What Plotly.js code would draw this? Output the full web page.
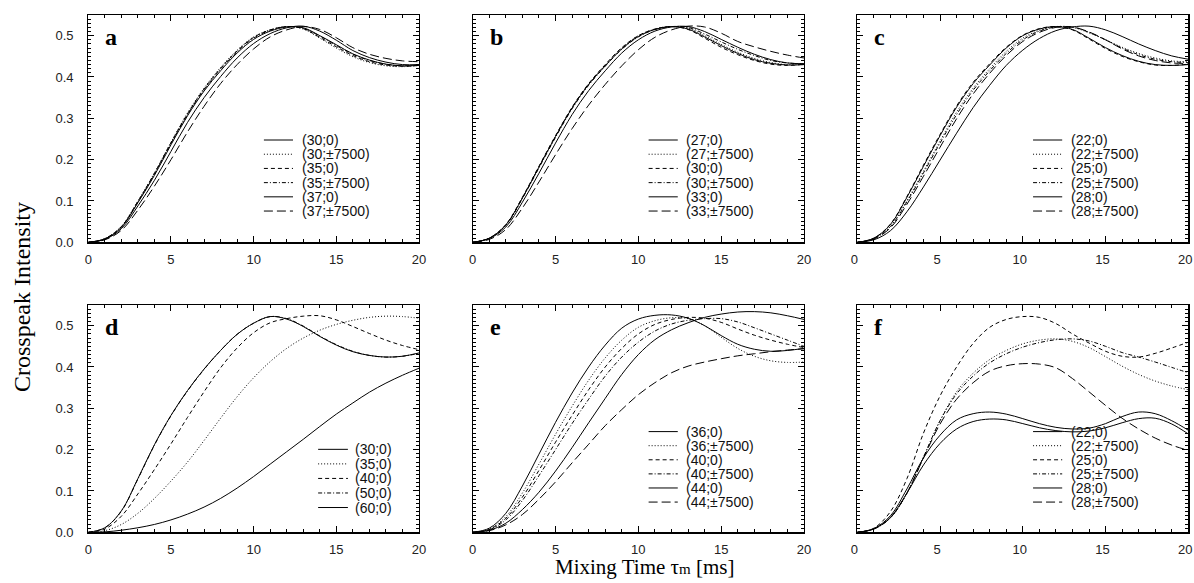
<!DOCTYPE html>
<html><head><meta charset="utf-8">
<script src="https://cdn.plot.ly/plotly-3.0.1.min.js"></script>
<style>html,body{margin:0;padding:0;background:#fff}#chart{width:1194px;height:583px}</style>
</head><body><div id="chart"></div>
<script>
// ---------------- data ----------------
const tms = [0,1,2,3,4,5,6,7,8,9,10,11,12,13,14,15,16,17,18,19,20];
const xTickVals = [0,5,10,15,20];
const xTickText = ['0','5','10','15','20'];
const yTickVals = [0,0.1,0.2,0.3,0.4,0.5];
const yTickText = ['0.0','0.1','0.2','0.3','0.4','0.5'];
const panelLetters = ['a','b','c','d','e','f'];
const xTitle = 'Mixing Time τ<span style="font-size:15px">m</span> [ms]';
const yTitle = 'Crosspeak Intensity';

// panel a
const labelsA = ['(30;0)','(30;±7500)','(35;0)','(35;±7500)','(37;0)','(37;±7500)'];
const a_30_0    = [0,0.008,0.036,0.096,0.162,0.236,0.306,0.366,0.415,0.458,0.491,0.511,0.521,0.519,0.500,0.478,0.456,0.441,0.431,0.427,0.428];
const a_30_7500 = [0,0.009,0.039,0.100,0.168,0.242,0.313,0.373,0.423,0.465,0.497,0.514,0.522,0.516,0.494,0.470,0.449,0.435,0.427,0.425,0.428];
const a_35_0    = [0,0.009,0.038,0.099,0.167,0.241,0.311,0.371,0.421,0.463,0.496,0.514,0.522,0.517,0.496,0.473,0.452,0.437,0.429,0.426,0.428];
const a_35_7500 = [0,0.008,0.037,0.098,0.165,0.239,0.309,0.369,0.419,0.461,0.494,0.513,0.522,0.518,0.499,0.476,0.455,0.440,0.431,0.427,0.429];
const a_37_0    = [0,0.007,0.033,0.088,0.150,0.220,0.290,0.350,0.401,0.446,0.481,0.505,0.519,0.523,0.511,0.489,0.464,0.447,0.436,0.430,0.430];
const a_37_7500 = [0,0.006,0.029,0.078,0.136,0.200,0.267,0.329,0.384,0.430,0.468,0.497,0.514,0.522,0.515,0.495,0.471,0.455,0.445,0.439,0.437];

// panel b
const labelsB = ['(27;0)','(27;±7500)','(30;0)','(30;±7500)','(33;0)','(33;±7500)'];
const b_27_0    = [0,0.010,0.042,0.107,0.182,0.256,0.325,0.382,0.427,0.468,0.498,0.515,0.522,0.516,0.497,0.476,0.457,0.442,0.433,0.429,0.430];
const b_27_7500 = [0,0.010,0.042,0.108,0.183,0.257,0.326,0.383,0.429,0.470,0.500,0.516,0.522,0.518,0.500,0.479,0.460,0.445,0.435,0.430,0.430];
const b_30_0    = [0,0.010,0.043,0.109,0.184,0.258,0.327,0.384,0.430,0.471,0.500,0.516,0.522,0.515,0.494,0.472,0.454,0.440,0.431,0.428,0.431];
const b_30_7500 = [0,0.010,0.041,0.106,0.180,0.254,0.323,0.380,0.426,0.467,0.497,0.515,0.522,0.520,0.504,0.485,0.467,0.452,0.440,0.434,0.432];
const b_33_0    = [0,0.009,0.037,0.097,0.167,0.240,0.309,0.367,0.415,0.458,0.490,0.511,0.521,0.522,0.510,0.491,0.472,0.455,0.442,0.434,0.432];
const b_33_7500 = [0,0.007,0.031,0.083,0.146,0.212,0.275,0.332,0.382,0.427,0.466,0.496,0.514,0.523,0.521,0.506,0.486,0.473,0.462,0.453,0.446];

// panel c
const labelsC = ['(22;0)','(22;±7500)','(25;0)','(25;±7500)','(28;0)','(28;±7500)'];
const c_22_0    = [0,0.010,0.043,0.109,0.184,0.258,0.327,0.384,0.429,0.470,0.500,0.516,0.522,0.515,0.494,0.471,0.452,0.438,0.430,0.428,0.430];
const c_22_7500 = [0,0.009,0.039,0.101,0.172,0.245,0.315,0.373,0.420,0.462,0.494,0.513,0.522,0.520,0.507,0.490,0.472,0.457,0.446,0.439,0.437];
const c_25_0    = [0,0.010,0.044,0.111,0.187,0.261,0.330,0.387,0.432,0.472,0.501,0.517,0.522,0.514,0.492,0.469,0.450,0.437,0.429,0.428,0.431];
const c_25_7500 = [0,0.009,0.038,0.098,0.168,0.240,0.309,0.368,0.415,0.457,0.490,0.511,0.521,0.521,0.508,0.490,0.470,0.454,0.443,0.437,0.435];
const c_28_0    = [0,0.006,0.028,0.074,0.134,0.199,0.264,0.326,0.380,0.428,0.465,0.493,0.512,0.521,0.523,0.514,0.498,0.480,0.464,0.451,0.443];
const c_28_7500 = [0,0.008,0.035,0.092,0.160,0.230,0.299,0.359,0.409,0.452,0.486,0.508,0.520,0.521,0.509,0.490,0.468,0.451,0.440,0.434,0.433];

// panel d
const labelsD = ['(30;0)','(35;0)','(40;0)','(50;0)','(60;0)'];
const d_30_0 = [0,0.011,0.052,0.130,0.212,0.283,0.343,0.395,0.440,0.479,0.506,0.522,0.516,0.498,0.474,0.453,0.437,0.428,0.424,0.426,0.434];
const d_35_0 = [0,0.004,0.019,0.046,0.082,0.124,0.170,0.222,0.276,0.328,0.374,0.413,0.445,0.470,0.489,0.503,0.513,0.520,0.523,0.522,0.518];
const d_40_0 = [0,0.008,0.039,0.093,0.152,0.214,0.278,0.340,0.398,0.446,0.483,0.507,0.517,0.523,0.524,0.514,0.498,0.481,0.465,0.452,0.442];
const d_50_0 = [0,0.011,0.051,0.129,0.211,0.282,0.342,0.394,0.440,0.479,0.506,0.522,0.517,0.499,0.475,0.454,0.438,0.428,0.424,0.426,0.433];
const d_60_0 = [0,0.001,0.005,0.011,0.019,0.030,0.044,0.061,0.082,0.107,0.135,0.165,0.195,0.225,0.256,0.286,0.313,0.339,0.361,0.380,0.397];

// panel e
const labelsE = ['(36;0)','(36;±7500)','(40;0)','(40;±7500)','(44;0)','(44;±7500)'];
const e_36_0    = [0,0.010,0.046,0.112,0.189,0.266,0.337,0.400,0.453,0.494,0.516,0.525,0.526,0.518,0.500,0.476,0.455,0.443,0.438,0.440,0.445];
const e_36_7500 = [0,0.008,0.038,0.095,0.165,0.237,0.305,0.368,0.422,0.465,0.496,0.512,0.519,0.517,0.500,0.472,0.445,0.426,0.415,0.411,0.412];
const e_40_0    = [0,0.007,0.034,0.085,0.150,0.218,0.283,0.345,0.400,0.445,0.480,0.503,0.515,0.520,0.518,0.508,0.492,0.477,0.465,0.455,0.447];
const e_40_7500 = [0,0.006,0.030,0.077,0.137,0.200,0.263,0.322,0.378,0.424,0.460,0.487,0.504,0.513,0.517,0.517,0.509,0.495,0.480,0.465,0.450];
const e_44_0    = [0,0.005,0.022,0.055,0.097,0.148,0.205,0.265,0.324,0.382,0.430,0.466,0.490,0.507,0.520,0.528,0.533,0.534,0.531,0.524,0.515];
const e_44_7500 = [0,0.004,0.018,0.043,0.080,0.122,0.168,0.213,0.258,0.297,0.333,0.362,0.386,0.402,0.412,0.420,0.427,0.432,0.437,0.441,0.444];

// panel f
const labelsF = ['(22;0)','(22;±7500)','(25;0)','(25;±7500)','(28;0)','(28;±7500)'];
const f_22_0    = [0,0.009,0.040,0.105,0.180,0.235,0.272,0.287,0.291,0.286,0.275,0.263,0.254,0.250,0.252,0.263,0.280,0.291,0.287,0.270,0.247];
const f_22_7500 = [0,0.008,0.035,0.095,0.182,0.270,0.340,0.385,0.418,0.440,0.456,0.465,0.468,0.462,0.447,0.425,0.402,0.382,0.366,0.354,0.345];
const f_25_0    = [0,0.010,0.050,0.130,0.240,0.330,0.400,0.457,0.496,0.515,0.522,0.520,0.505,0.480,0.458,0.438,0.426,0.424,0.433,0.446,0.460];
const f_25_7500 = [0,0.008,0.035,0.095,0.182,0.270,0.335,0.378,0.410,0.432,0.448,0.459,0.466,0.468,0.463,0.450,0.435,0.424,0.412,0.399,0.386];
const f_28_0    = [0,0.008,0.036,0.095,0.163,0.215,0.250,0.268,0.274,0.272,0.263,0.253,0.246,0.243,0.245,0.253,0.265,0.275,0.276,0.262,0.238];
const f_28_7500 = [0,0.008,0.035,0.095,0.180,0.262,0.322,0.362,0.390,0.403,0.408,0.407,0.398,0.372,0.340,0.307,0.276,0.250,0.228,0.211,0.198];

// ---------------- styles ----------------
const DOT = '1px,2px', DASH = '4px,3px', DASHDOT = '4px,2px,1px,2px', LONGDASH = '9px,4px';
const dashSix = ['solid', DOT, DASH, DASHDOT, 'solid', LONGDASH];
const dashFive = ['solid', DOT, DASH, DASHDOT, 'solid'];

const panels = [
  {labels: labelsA, series: [a_30_0,a_30_7500,a_35_0,a_35_7500,a_37_0,a_37_7500], dashes: dashSix},
  {labels: labelsB, series: [b_27_0,b_27_7500,b_30_0,b_30_7500,b_33_0,b_33_7500], dashes: dashSix},
  {labels: labelsC, series: [c_22_0,c_22_7500,c_25_0,c_25_7500,c_28_0,c_28_7500], dashes: dashSix},
  {labels: labelsD, series: [d_30_0,d_35_0,d_40_0,d_50_0,d_60_0], dashes: dashFive},
  {labels: labelsE, series: [e_36_0,e_36_7500,e_40_0,e_40_7500,e_44_0,e_44_7500], dashes: dashSix},
  {labels: labelsF, series: [f_22_0,f_22_7500,f_25_0,f_25_7500,f_28_0,f_28_7500], dashes: dashSix}
];

const W = 1194, H = 583;
const colPx = [[88.3,419],[472.7,804],[857.3,1188.3]];
const rowPx = [[15,242.3],[305,532.3]];
// legend geometry in axis-domain fractions
const legGeom = [
  {x0:0.531, x1:0.619, tx:0.639, y0:0.450, dy:0.0625},
  {x0:0.531, x1:0.619, tx:0.639, y0:0.450, dy:0.0625},
  {x0:0.531, x1:0.619, tx:0.639, y0:0.450, dy:0.0625},
  {x0:0.695, x1:0.785, tx:0.800, y0:0.365, dy:0.064},
  {x0:0.531, x1:0.619, tx:0.639, y0:0.443, dy:0.062},
  {x0:0.531, x1:0.619, tx:0.639, y0:0.443, dy:0.062}
];

const tickFont = {family:'Liberation Sans, Arial, sans-serif', size:13, color:'#222'};
const legFont = {family:'Liberation Sans, Arial, sans-serif', size:14, color:'#111'};
const layout = {
  width: W, height: H, margin:{l:0,r:0,t:0,b:0},
  paper_bgcolor:'#fff', plot_bgcolor:'#fff', showlegend:false, hovermode:false,
  annotations: [], shapes: []
};
const traces = [];

panels.forEach((p, i) => {
  const n = i === 0 ? '' : String(i+1);
  const col = i % 3, row = Math.floor(i/3);
  const xd = [colPx[col][0]/W, colPx[col][1]/W];
  const yd = [1 - rowPx[row][1]/H, 1 - rowPx[row][0]/H];
  layout['xaxis'+n] = {
    domain: xd, anchor: 'y'+n, range:[0,20], tickmode:'array', tickvals:xTickVals, ticktext:xTickText,
    ticks:'inside', ticklen:6, tickwidth:1, tickcolor:'#000',
    showline:true, linecolor:'#000', linewidth:1.2, mirror:'ticks',
    showgrid:false, zeroline:false, tickfont:tickFont, ticklabelstandoff:5, ticklabeloverflow:'allow',
    ticklabelshift: col === 2 ? -3 : 0, fixedrange:true,
    minor:{tickmode:'linear', tick0:0, dtick:1, ticks:'inside', ticklen:3, tickcolor:'#000', tickwidth:1, showgrid:false}
  };
  layout['yaxis'+n] = {
    domain: yd, anchor: 'x'+n, range:[0,0.55], tickmode:'array', tickvals:yTickVals, ticktext:yTickText,
    ticks:'inside', ticklen:6, tickwidth:1, tickcolor:'#000',
    showline:true, linecolor:'#000', linewidth:1.2, mirror:'ticks',
    showgrid:false, zeroline:false, tickfont:tickFont, ticklabelstandoff:11, ticklabeloverflow:'allow', fixedrange:true,
    showticklabels: col === 0,
    minor:{tickmode:'linear', tick0:0, dtick:0.01, ticks:'inside', ticklen:3, tickcolor:'#000', tickwidth:1, showgrid:false}
  };
  p.series.forEach((ys, k) => {
    traces.push({
      type:'scatter', mode:'lines', x: tms, y: ys, name: p.labels[k],
      xaxis:'x'+n, yaxis:'y'+n,
      line:{color:'#000', width:1, dash:p.dashes[k], shape:'spline', smoothing:1},
      showlegend:false, hoverinfo:'skip'
    });
  });
  // panel letter
  layout.annotations.push({
    xref:'x'+n+' domain', yref:'y'+n+' domain', x:0.045, y:0.905, xanchor:'left', yanchor:'middle',
    text:'<b>'+panelLetters[i]+'</b>', showarrow:false,
    font:{family:'Liberation Serif, Times New Roman, serif', size:24, color:'#000'}
  });
  // legend (line sample + label)
  const g = legGeom[i];
  p.labels.forEach((lab, k) => {
    const yy = g.y0 - k*g.dy;
    layout.shapes.push({
      type:'line', xref:'x'+n+' domain', yref:'y'+n+' domain', x0:g.x0, x1:g.x1, y0:yy, y1:yy,
      line:{color:'#000', width:1, dash:p.dashes[k]}
    });
    layout.annotations.push({
      xref:'x'+n+' domain', yref:'y'+n+' domain', x:g.tx, y:yy, xanchor:'left', yanchor:'middle',
      text:lab, showarrow:false, font:legFont
    });
  });
});

// axis titles
layout.annotations.push({
  xref:'paper', yref:'paper', x:22/W, y:1-297/H, xanchor:'center', yanchor:'middle',
  text:yTitle, textangle:-90, showarrow:false,
  font:{family:'Liberation Serif, Times New Roman, serif', size:24, color:'#000'}
});
layout.annotations.push({
  xref:'paper', yref:'paper', x:645/W, y:1-567/H, xanchor:'center', yanchor:'middle',
  text:xTitle, showarrow:false,
  font:{family:'Liberation Serif, Times New Roman, serif', size:21, color:'#000'}
});

Plotly.newPlot('chart', traces, layout, {staticPlot:true, displayModeBar:false});
</script>
</body></html>
